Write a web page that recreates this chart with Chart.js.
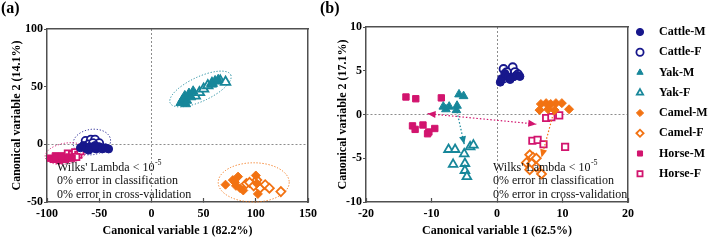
<!DOCTYPE html>
<html><head><meta charset="utf-8">
<script src="https://cdn.jsdelivr.net/npm/chart.js@4/dist/chart.umd.min.js"></script>
<style>
html,body{margin:0;padding:0;background:#fff;width:709px;height:241px;overflow:hidden;}
#wa{position:absolute;left:0;top:0;width:326px;height:241px;}
#wb{position:absolute;left:326px;top:0;width:383px;height:241px;}
.pl{position:absolute;font:bold 16px "Liberation Serif",serif;line-height:16px;color:#000;}
</style></head><body>
<div id="wa"><canvas id="ca"></canvas></div>
<div id="wb"><canvas id="cb"></canvas></div>
<div class="pl" style="left:1px;top:0px">(a)</div>
<div class="pl" style="left:320px;top:0px">(b)</div>
<script>
// ---------- data ----------
const groups = ['Cattle-M','Cattle-F','Yak-M','Yak-F','Camel-M','Camel-F','Horse-M','Horse-F'];

// panel (a): canonical variable 1 (82.2%) vs 2 (14.1%)
const aCattleM = [[-68,-3],[-65,-1],[-62,-4],[-59,-2],[-56,-3],[-53,-4],[-50,-2],[-47,-4],[-44,-3],[-41,-4],[-60,-5],[-54,-1]];
const aCattleF = [[-63,3],[-58,4],[-54,4],[-50,1],[-60,0],[-56,1]];
const aYakM    = [[28,36],[30,39],[32,42],[34,38],[36,44],[38,41],[40,46],[33,35],[58,52],[61,55],[64,56]];
const aYakF    = [[42,42],[46,45],[50,48],[54,51],[58,53],[66,55],[71,54]];
const aCamelM  = [[71,-35],[78,-31],[83,-28],[81,-36],[85,-38],[88,-40],[100,-27],[101,-34],[102,-43],[80,-33]];
const aCamelF  = [[91,-34],[94,-33],[101,-31],[104,-38],[109,-35],[113,-38],[124,-41],[98,-36]];
const aHorseM  = [[-97,-12],[-94,-13],[-91,-12],[-88,-14],[-85,-12],[-82,-13],[-79,-11],[-76,-12],[-92,-10],[-86,-10]];
const aHorseF  = [[-80,-8],[-76,-9],[-73,-7],[-70,-9],[-68,-6],[-72,-11]];

// panel (b): canonical variable 1 (62.5%) vs 2 (17.1%)
const bCattleM = [[0.5,3.7],[0.7,4.1],[1.2,4.7],[1.7,4.3],[2.5,4.3],[3.0,4.5],[3.5,4.35],[2.0,4.0]];
const bCattleF = [[1.0,5.2],[2.4,5.4],[1.5,4.85],[2.75,4.85],[1.0,4.1],[3.2,4.6]];
const bYakM    = [[-5.8,2.3],[-5.1,2.1],[-8.2,0.9],[-7.8,0.6],[-7.3,0.9],[-6.2,0.5],[-6.1,1.0]];
const bYakF    = [[-7.4,-4.0],[-6.4,-4.0],[-5.0,-4.5],[-4.1,-3.7],[-3.6,-3.5],[-6.7,-5.7],[-4.9,-5.6],[-4.9,-6.4],[-4.6,-7.1]];
const bCamelM  = [[6.7,1.2],[7.5,1.3],[8.2,1.2],[9.0,1.3],[9.9,1.3],[11.0,0.6],[6.5,0.5],[7.8,0.6],[8.8,0.5]];
const bCamelF  = [[5.0,-4.6],[5.5,-4.9],[4.5,-5.5],[5.3,-5.6],[6.0,-6.0],[6.8,-6.8],[5.0,-6.3],[6.0,-5.0]];
const bHorseM  = [[-13.9,2.0],[-12.4,1.8],[-8.5,1.9],[-12.9,-1.3],[-12.5,-1.7],[-11.3,-1.2],[-10.4,-2.0],[-9.5,-1.6],[-10.6,-2.2]];
const bHorseF  = [[7.5,-0.4],[8.3,-0.3],[9.5,-0.1],[5.4,-3.0],[6.2,-2.9],[7.1,-3.4],[10.4,-3.7]];

// axis ranges and tick steps
const aXRange = [-100,150], aXStep = 50, aYRange = [-50,100], aYStep = 50;
const bXRange = [-20,20],   bXStep = 10, bYRange = [-10,10],  bYStep = 5;
const aTitles = ['Canonical variable 1 (82.2%)','Canonical variable 2 (14.1%)'];
const bTitles = ['Canonical variable 1 (62.5%)','Canonical variable 2 (17.1%)'];
const notes = ["Wilks' Lambda < 10", '0% error in classification', '0% error in cross-validation'];

// group confidence ellipses in panel (a): species, centre, semi-axes (data units), tilt
const aEllipseSpecies = ['Cattle','Yak','Camel','Horse'];
const aEllipseCentre  = [[-57,2],[47,48],[98,-33],[-82,-8]];
const aEllipseAxes    = [[18,11],[32,10.5],[34,17],[20,9]];
const aEllipseTilt    = [-8,-25,0,-10];

// centroid shift arrows in panel (b): species, from, to, double-headed
const bArrowSpecies = ['Horse','Yak','Camel'];
const bArrowFrom    = [[-10.6,0.1],[-6.1,0.3],[8.6,0.1]];
const bArrowTo      = [[6.0,-1.1],[-5.0,-3.4],[6.8,-4.9]];
const bArrowBoth    = [true,false,false];

// ---------- styles ----------
const SERIF = '"Liberation Serif","Times New Roman",serif';
const COL = {Cattle:'#17178c', Yak:'#17879a', Camel:'#f27212', Horse:'#d2146e'};
const SHAPE = {Cattle:'circle', Yak:'triangle', Camel:'rectRot', Horse:'rect'};
const RAD_A = {Cattle:4, Yak:5.5, Camel:4.5, Horse:4.5};
const RAD_B = {Cattle:4, Yak:5, Camel:4.5, Horse:4.5};

function mkSets(list, rad){
  return groups.map((g,i)=>{
    const sp = g.split('-')[0], open = g.endsWith('-F');
    return {
      label:g, data:list[i].map(p=>({x:p[0],y:p[1]})),
      pointStyle:SHAPE[sp], pointRadius:rad[sp], pointHoverRadius:rad[sp],
      backgroundColor: open ? '#ffffff' : COL[sp],
      borderColor: COL[sp], borderWidth: open ? 1.8 : 1,
      showLine:false
    };
  });
}

const gridCol = c => (c.tick && c.tick.value === 0) ? '#8c8c8c' : 'rgba(0,0,0,0)';
function scalesFor(xr, xs, yr, ys, titles, yW){
  const tickFont = {family:SERIF, size:12, weight:'bold'};
  const frame = {type:'linear', display:true, ticks:{display:false},
    grid:{drawOnChartArea:false, drawTicks:false}, border:{color:'#505050', width:1.5}};
  return {
    x:{type:'linear', min:xr[0], max:xr[1],
      ticks:{stepSize:xs, font:tickFont, color:'#000', padding:9, maxRotation:0, autoSkip:false},
      grid:{color:gridCol, lineWidth:1, tickColor:'#505050', tickLength:-4, tickWidth:1.2},
      border:{color:'#505050', width:1.5, dash:[2,2]},
      title:{display:true, text:titles[0], font:tickFont, color:'#000', padding:{top:0,bottom:3}},
      afterFit:s=>{s.height=39;}},
    y:{type:'linear', min:yr[0], max:yr[1],
      ticks:{stepSize:ys, font:tickFont, color:'#000', padding:1, autoSkip:false},
      grid:{color:gridCol, lineWidth:1, tickColor:'#505050', tickLength:3, tickWidth:1.2},
      border:{color:'#505050', width:1.5, dash:[2,2]},
      title:{display:true, text:titles[1], font:tickFont, color:'#000', padding:{top:10,bottom:0}},
      afterFit:s=>{s.width=yW;}},
    x2:Object.assign({position:'top', afterFit:s=>{s.height=0;}}, frame),
    y2:Object.assign({position:'right', afterFit:s=>{s.width=0;}}, frame)
  };
}

const notesPlugin = {
  id:'notes',
  afterDraw(chart, args, o){
    const ctx = chart.ctx;
    ctx.save();
    ctx.fillStyle = '#111';
    ctx.textBaseline = 'middle';
    ctx.textAlign = 'left';
    ctx.font = '12px ' + SERIF;
    const ys = [167.5, 181, 194.5];
    notes.forEach((t,i)=>{
      ctx.font = '12px ' + SERIF;
      ctx.fillText(t, o.x, ys[i]);
      if(i===0){
        const w = ctx.measureText(t).width;
        ctx.font = '8px ' + SERIF;
        ctx.fillText('-5', o.x + w + 0.5, ys[i] - 5);
      }
    });
    ctx.restore();
  }
};

const ellipsePlugin = {
  id:'ellipses',
  beforeDatasetsDraw(chart, args, o){
    if(!o.on) return;
    const ctx = chart.ctx, xs = chart.scales.x, ys = chart.scales.y;
    aEllipseSpecies.forEach((sp,i)=>{
      const [cxv,cyv] = aEllipseCentre[i], [rxv,ryv] = aEllipseAxes[i];
      const cx = xs.getPixelForValue(cxv), cy = ys.getPixelForValue(cyv);
      const rx = Math.abs(xs.getPixelForValue(cxv+rxv)-cx), ry = Math.abs(ys.getPixelForValue(cyv+ryv)-cy);
      ctx.save();
      ctx.beginPath();
      ctx.ellipse(cx, cy, rx, ry, aEllipseTilt[i]*Math.PI/180, 0, 2*Math.PI);
      ctx.setLineDash([1.2,1.8]);
      ctx.lineWidth = 1;
      ctx.strokeStyle = COL[sp];
      ctx.stroke();
      ctx.restore();
    });
  }
};

function head(ctx, x1, y1, x2, y2, col){
  const a = Math.atan2(y2-y1, x2-x1), L = 8, W = 3.5;
  ctx.save();
  ctx.translate(x2, y2); ctx.rotate(a);
  ctx.beginPath(); ctx.moveTo(0,0); ctx.lineTo(-L,-W); ctx.lineTo(-L,W); ctx.closePath();
  ctx.fillStyle = col; ctx.fill();
  ctx.restore();
}
const arrowPlugin = {
  id:'arrows',
  afterDatasetsDraw(chart, args, o){
    if(!o.on) return;
    const ctx = chart.ctx, xs = chart.scales.x, ys = chart.scales.y;
    bArrowSpecies.forEach((sp,i)=>{
      const x1 = xs.getPixelForValue(bArrowFrom[i][0]), y1 = ys.getPixelForValue(bArrowFrom[i][1]);
      const x2 = xs.getPixelForValue(bArrowTo[i][0]),   y2 = ys.getPixelForValue(bArrowTo[i][1]);
      ctx.save();
      ctx.beginPath(); ctx.moveTo(x1,y1); ctx.lineTo(x2,y2);
      ctx.setLineDash([1.5,2]); ctx.lineWidth = 1.2; ctx.strokeStyle = COL[sp]; ctx.stroke();
      ctx.restore();
      head(ctx, x1, y1, x2, y2, COL[sp]);
      if(bArrowBoth[i]) head(ctx, x2, y2, x1, y1, COL[sp]);
    });
  }
};

const legendPlugin = {
  id:'sideLegend',
  afterDraw(chart, args, o){
    if(!o.on) return;
    const ctx = chart.ctx;
    chart.data.datasets.forEach((ds,i)=>{
      const y = 32 + i*20.25;
      ctx.save();
      ctx.fillStyle = ds.backgroundColor; ctx.strokeStyle = ds.borderColor;
      ctx.lineWidth = ds.borderWidth;
      Chart.helpers.drawPoint(ctx, {pointStyle:ds.pointStyle, radius:3.6, borderWidth:ds.borderWidth, rotation:0}, o.x, y);
      ctx.fillStyle = '#000';
      ctx.font = 'bold 12px ' + SERIF;
      ctx.textBaseline = 'middle'; ctx.textAlign = 'left';
      ctx.fillText(ds.label, o.tx, y);
      ctx.restore();
    });
  }
};

function build(id, sets, scales, pad, pluginOpts){
  return new Chart(document.getElementById(id), {
    type:'scatter',
    data:{datasets:sets},
    options:{
      responsive:true, maintainAspectRatio:false, animation:false, devicePixelRatio:1,
      layout:{padding:pad},
      scales:scales,
      plugins:Object.assign({legend:{display:false}, tooltip:{enabled:false}}, pluginOpts)
    },
    plugins:[ellipsePlugin, arrowPlugin, notesPlugin, legendPlugin]
  });
}

build('ca',
  mkSets([aCattleM,aCattleF,aYakM,aYakF,aCamelM,aCamelF,aHorseM,aHorseF], RAD_A),
  scalesFor(aXRange, aXStep, aYRange, aYStep, aTitles, 47),
  {top:29, right:18, left:0, bottom:0},
  {notes:{x:57}, ellipses:{on:true}, arrows:{on:false}, sideLegend:{on:false}});

build('cb',
  mkSets([bCattleM,bCattleF,bYakM,bYakF,bCamelM,bCamelF,bHorseM,bHorseF], RAD_B),
  scalesFor(bXRange, bXStep, bYRange, bYStep, bTitles, 40),
  {top:27, right:81, left:0, bottom:0},
  {notes:{x:167}, ellipses:{on:false}, arrows:{on:true}, sideLegend:{on:true, x:314, tx:333}});
</script>
</body></html>
